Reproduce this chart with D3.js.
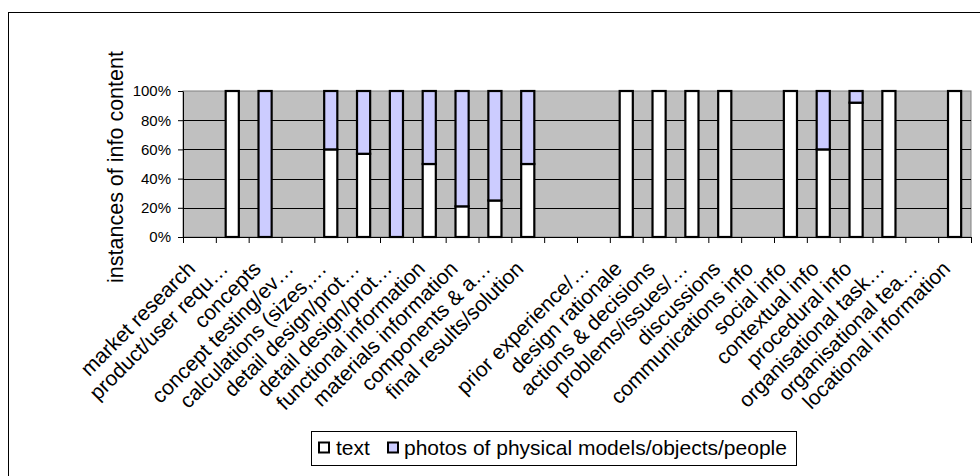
<!DOCTYPE html>
<html>
<head>
<meta charset="utf-8">
<script src="https://cdn.jsdelivr.net/npm/d3@7"></script>
<style>
  html, body { margin: 0; padding: 0; background: #fff; }
  svg { display: block; font-family: "Liberation Sans", Arial, sans-serif; }
</style>
</head>
<body>
<svg id="chart" width="980" height="476"></svg>
<script>
// ---- data ----
const categories = [
  "market research", "product/user requ\u2026", "concepts", "concept testing/ev\u2026",
  "calculations (sizes,\u2026", "detail design/prot\u2026", "detail design/prot\u2026",
  "functional information", "materials information", "components & a\u2026",
  "final results/solution", "", "prior experience/\u2026", "design rationale",
  "actions & decisions", "problems/issues/\u2026", "discussions", "communications info",
  "social info", "contextual info", "procedural info", "organisational task\u2026",
  "organisational tea\u2026", "locational information"
];
const textValues   = [0,100,0,0,60,57,0,50,21,25,50,0,0,100,100,100,100,0,100,60,92,100,0,100];
const photoValues  = [0,0,100,0,40,43,100,50,79,75,50,0,0,0,0,0,0,0,0,40,8,0,0,0];
const seriesNames  = ["text", "photos of physical models/objects/people"];
const yTicks       = [0, 20, 40, 60, 80, 100];
const yTitle       = "instances of info content";

// ---- layout ----
const svg = d3.select("#chart");
const plot = { left: 183, right: 971, top: 91, bottom: 237 };
const colors = { text: "#FFFFFF", photos: "#CCCCFF" };

// outer chart border (extends beyond the window on right/bottom)
svg.append("rect").attr("x", 8.5).attr("y", 12.5).attr("width", 990).attr("height", 490)
  .attr("fill", "#fff").attr("stroke", "#000").attr("stroke-width", 1);

const idx = d3.range(categories.length);
const x = d3.scaleBand().domain(idx).range([plot.left, plot.right])
  .paddingInner(0.6).paddingOuter(0.3);
const xb = d3.scaleLinear().domain([0, categories.length]).range([plot.left, plot.right]);
const y = d3.scaleLinear().domain([0, 100]).range([plot.bottom, plot.top]);

// plot area
svg.append("rect").attr("x", plot.left).attr("y", plot.top)
  .attr("width", plot.right - plot.left).attr("height", plot.bottom - plot.top)
  .attr("fill", "#C0C0C0").attr("stroke", "#808080").attr("stroke-width", 1);

// gridlines
svg.append("g").selectAll("line").data(yTicks.filter(d => d > 0 && d < 100)).join("line")
  .attr("x1", plot.left).attr("x2", plot.right)
  .attr("y1", d => Math.round(y(d)) + 0.5).attr("y2", d => Math.round(y(d)) + 0.5)
  .attr("stroke", "#000").attr("stroke-width", 1);

// stacked bars
const rows = idx.map(i => ({ i, text: textValues[i], photos: photoValues[i] }));
const stack = d3.stack().keys(["text", "photos"])(rows);
svg.append("g").selectAll("g").data(stack).join("g")
  .attr("fill", s => colors[s.key])
  .selectAll("rect").data(s => s.filter(d => d[1] - d[0] > 0)).join("rect")
  .attr("x", d => x(d.data.i))
  .attr("width", x.bandwidth())
  .attr("y", d => y(d[1]))
  .attr("height", d => y(d[0]) - y(d[1]))
  .attr("stroke", "#000").attr("stroke-width", 2.2);

// y axis
const yAxis = svg.append("g").attr("transform", `translate(${plot.left},0)`)
  .call(d3.axisLeft(y).tickValues(yTicks).tickFormat(d => d + "%").tickSize(5).tickPadding(7).tickSizeOuter(0));
yAxis.select(".domain").attr("stroke", "#000");
yAxis.selectAll("text").attr("font-size", 15).attr("fill", "#000")
  .attr("font-family", '"Liberation Sans", Arial, sans-serif');

// x axis (ticks at category boundaries)
const xAxis = svg.append("g").attr("transform", `translate(0,${plot.bottom})`)
  .call(d3.axisBottom(xb).tickValues(d3.range(categories.length + 1)).tickFormat("").tickSize(6).tickSizeOuter(0));
xAxis.select(".domain").attr("stroke", "#000");

// x labels
svg.append("g").selectAll("text").data(idx).join("text")
  .attr("transform", i => `translate(${x(i) + x.bandwidth() / 2 - 3},270) rotate(-45)`)
  .attr("text-anchor", "end").attr("font-size", 21).attr("fill", "#000")
  .text(i => categories[i]);

// y title
svg.append("text").attr("transform", "translate(123,167) rotate(-90)")
  .attr("text-anchor", "middle").attr("font-size", 21.5).attr("fill", "#000")
  .text(yTitle);

// legend
const lg = svg.append("g");
lg.append("rect").attr("x", 311.5).attr("y", 431.5).attr("width", 485).attr("height", 34)
  .attr("fill", "#fff").attr("stroke", "#000").attr("stroke-width", 1);
const legendItems = [
  { key: "text", label: seriesNames[0], mx: 319, tx: 336 },
  { key: "photos", label: seriesNames[1], mx: 388, tx: 404 }
];
legendItems.forEach(it => {
  lg.append("rect").attr("x", it.mx).attr("y", 442.5).attr("width", 10).attr("height", 10)
    .attr("fill", colors[it.key]).attr("stroke", "#000").attr("stroke-width", 2);
  lg.append("text").attr("x", it.tx).attr("y", 455).attr("font-size", 21).attr("fill", "#000")
    .text(it.label);
});
</script>
</body>
</html>
